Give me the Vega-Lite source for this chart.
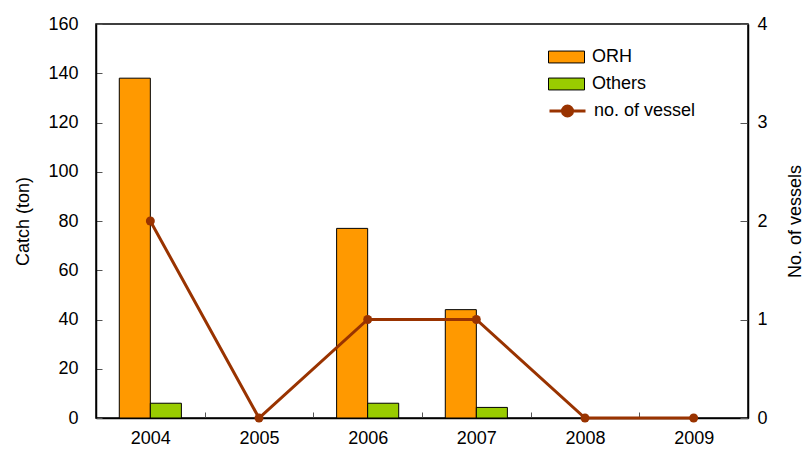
{
  "$schema": "https://vega.github.io/schema/vega-lite/v6.json",
  "autosize": "none",
  "padding": {"left": 96, "top": 24, "right": 59, "bottom": 36},
  "width": 652,
  "height": 394,
  "background": "white",
  "config": {
    "font": "Liberation Sans",
    "view": {"stroke": "black", "strokeWidth": 1.5},
    "axis": {"labelFont": "Liberation Sans", "titleFont": "Liberation Sans", "labelFontSize": 18, "titleFontSize": 18, "titleFontWeight": "normal", "labelColor": "black", "titleColor": "black", "domainColor": "black", "tickColor": "#555", "domainWidth": 1.5, "grid": false},
    "legend": {"labelFont": "Liberation Sans", "labelFontSize": 18, "labelColor": "black"}
  },
  "datasets": {
    "catch": [
      {"year": "2004", "series": "ORH", "catch": 138},
      {"year": "2004", "series": "Others", "catch": 6},
      {"year": "2005", "series": "ORH", "catch": 0},
      {"year": "2005", "series": "Others", "catch": 0},
      {"year": "2006", "series": "ORH", "catch": 77},
      {"year": "2006", "series": "Others", "catch": 6},
      {"year": "2007", "series": "ORH", "catch": 44},
      {"year": "2007", "series": "Others", "catch": 4.3},
      {"year": "2008", "series": "ORH", "catch": 0},
      {"year": "2008", "series": "Others", "catch": 0},
      {"year": "2009", "series": "ORH", "catch": 0},
      {"year": "2009", "series": "Others", "catch": 0}
    ],
    "vessels": [
      {"year": "2004", "vessels": 2},
      {"year": "2005", "vessels": 0},
      {"year": "2006", "vessels": 1},
      {"year": "2007", "vessels": 1},
      {"year": "2008", "vessels": 0},
      {"year": "2009", "vessels": 0}
    ]
  },
  "encoding": {
    "x": {
      "field": "year", "type": "nominal",
      "scale": {"paddingInner": 0, "paddingOuter": 0},
      "axis": {"title": null, "labelAngle": 0, "tickBand": "extent", "tickSize": -6, "labelPadding": 17, "domainWidth": 1.5}
    }
  },
  "layer": [
    {
      "data": {"name": "catch"},
      "mark": {"type": "bar", "stroke": "black", "strokeWidth": 1},
      "encoding": {
        "xOffset": {"field": "series", "type": "nominal", "scale": {"paddingInner": 0, "paddingOuter": 0.75}},
        "y": {
          "field": "catch", "type": "quantitative",
          "scale": {"domain": [0, 160], "nice": false},
          "axis": {"title": "Catch (ton)", "values": [0, 20, 40, 60, 80, 100, 120, 140, 160], "tickSize": -6, "labelPadding": 24, "titlePadding": 15}
        },
        "strokeOpacity": {
          "condition": {"test": "datum.catch > 0", "value": 1},
          "value": 0
        },
        "fill": {
          "field": "series", "type": "nominal",
          "scale": {"domain": ["ORH", "Others"], "range": ["#FF9900", "#99CC00"]},
          "legend": {
            "title": null, "orient": "none", "legendX": 452, "legendY": 25, "padding": 0,
            "symbolType": "M-1,-0.33H1V0.33H-1Z", "symbolSize": 1296, "symbolStrokeColor": "black", "symbolStrokeWidth": 1, "symbolOpacity": 1,
            "clipHeight": 16, "rowPadding": 9, "labelOffset": 7
          }
        }
      }
    },
    {
      "data": {"name": "vessels"},
      "layer": [
        {
          "mark": {"type": "line", "strokeWidth": 3},
          "encoding": {
            "y": {
              "field": "vessels", "type": "quantitative",
              "scale": {"domain": [0, 4], "nice": false},
              "axis": {"title": "No. of vessels", "orient": "right", "format": "d", "values": [0, 1, 2, 3, 4], "tickSize": -8, "labelPadding": 17, "titleAngle": 270, "titlePadding": 37}
            },
            "stroke": {
              "datum": "no. of vessel",
              "scale": {"domain": ["no. of vessel"], "range": ["#993300"]},
              "legend": {
                "title": null, "orient": "none", "legendX": 452, "legendY": 79, "padding": 0,
                "symbolType": "M-1,0H1M-0.28,0A0.28,0.28 0 1,1 0.28,0A0.28,0.28 0 1,1 -0.28,0Z", "symbolSize": 1296, "symbolStrokeWidth": 3, "symbolFillColor": "#993300",
                "clipHeight": 16, "labelOffset": 7
              }
            }
          }
        },
        {
          "mark": {"type": "point", "filled": true, "size": 80, "fill": "#993300", "opacity": 1},
          "encoding": {
            "y": {"field": "vessels", "type": "quantitative"}
          }
        }
      ]
    }
  ],
  "resolve": {"scale": {"y": "independent"}}
}
